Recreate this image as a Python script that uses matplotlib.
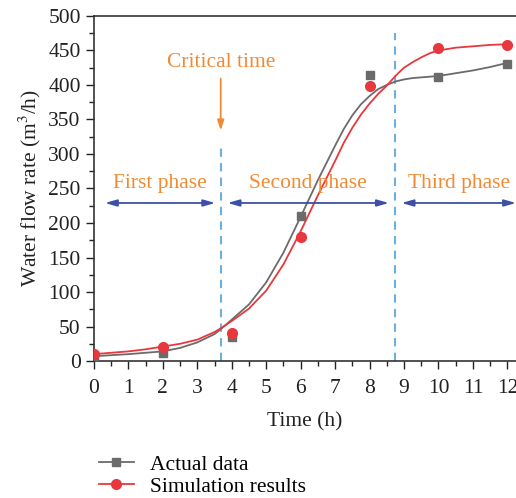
import matplotlib.pyplot as plt
from matplotlib.ticker import MultipleLocator

plt.rcParams['font.family'] = ['Liberation Serif', 'DejaVu Serif']
plt.rcParams['mathtext.fontset'] = 'stix'

# measured points
hours = [0, 2, 4, 6, 8, 10, 12]
actual = [8, 12, 35, 210, 414, 412, 431]
simulated = [10, 20, 40, 180, 398, 454, 458]

# fitted curves
curve_t = [0, 0.5, 1, 1.5, 2, 2.5, 3, 3.5, 3.7, 4, 4.5, 5, 5.5, 6, 6.5,
           7, 7.25, 7.5, 7.75, 8, 8.25, 8.5, 8.75, 9, 9.25, 9.5, 9.75,
           10, 10.5, 11, 11.5, 12]
curve_actual = [7, 8.5, 10, 12, 14, 19, 27, 39, 47, 60, 82, 114, 157, 209, 262,
                312, 336, 356, 372, 384, 394, 400, 405, 408, 410, 411, 412,
                413, 417, 421, 426, 432]
curve_sim = [10, 12, 14, 17, 21, 25, 31, 42, 48, 58, 76, 102, 140, 188, 240,
             290, 316, 338, 357, 373, 387, 399, 413, 425, 433, 440, 446,
             450, 454, 456, 458, 459]

critical_t = 3.68
phase_end = 8.74
phases = ['First phase', 'Second phase', 'Third phase']
phase_x = [1.92, 6.2, 10.6]
phase_span = [(0.32, 3.52), (3.88, 8.56), (8.93, 12.25)]

grey = '#6b6b6b'
red = '#e8383d'
orange = '#f28a33'
blue = '#3c50a8'
light_blue = '#6cb0e0'

fig = plt.figure(figsize=(5.16, 4.98), dpi=100)
ax = fig.add_axes([0.182, 0.275, 0.818, 0.693])

ax.plot(curve_t, curve_actual, color=grey, lw=1.3, zorder=3)
ax.plot(curve_t, curve_sim, color=red, lw=1.3, zorder=3)
ax.plot(hours, actual, 's', color=grey, ms=5.5, zorder=4)
ax.plot(hours, simulated, 'o', color=red, ms=7, zorder=5)

# phase boundaries
ax.plot([critical_t, critical_t], [0, 313], ls=(0, (4, 3)), color=light_blue, lw=1.5)
ax.plot([phase_end, phase_end], [0, 475], ls=(0, (4, 3)), color=light_blue, lw=1.5)

ax.annotate('', xy=(critical_t, 330), xytext=(critical_t, 413),
            arrowprops=dict(arrowstyle='-|>,head_length=0.6,head_width=0.2',
                            color=orange, lw=1.3))
ax.text(critical_t, 432, 'Critical time', color=orange, fontsize=15.5,
        ha='center', va='center')

for name, xc, (x0, x1) in zip(phases, phase_x, phase_span):
    ax.text(xc, 257, name, color=orange, fontsize=15.5, ha='center', va='center')
    ax.annotate('', xy=(x1, 229), xytext=(x0, 229),
                arrowprops=dict(arrowstyle='<|-|>,head_length=0.7,head_width=0.2',
                                color=blue, lw=1.3, shrinkA=0, shrinkB=0))

ax.set_xlim(0, 12.25)
ax.set_ylim(0, 500)
ax.xaxis.set_major_locator(MultipleLocator(1))
ax.xaxis.set_minor_locator(MultipleLocator(0.5))
ax.yaxis.set_major_locator(MultipleLocator(50))
ax.yaxis.set_minor_locator(MultipleLocator(25))
ax.tick_params(which='major', direction='out', length=6, width=1, labelsize=15.5,
               colors='#222222')
ax.tick_params(axis='x', which='major', pad=7)
ax.tick_params(which='minor', direction='out', length=3.5, width=1, colors='#222222')
ax.spines['right'].set_visible(False)
for s in ['left', 'bottom', 'top']:
    ax.spines[s].set_color('#333333')
    ax.spines[s].set_linewidth(1.2)

ax.set_xlabel('Time (h)', fontsize=15.5, color='#222222', labelpad=10)
ax.set_ylabel('Water flow rate (m$^3$/h)', fontsize=15.5, color='#222222', labelpad=4)

h1, = ax.plot([], [], '-s', color=grey, ms=5.5, lw=1.3)
h2, = ax.plot([], [], '-o', color=red, ms=7, lw=1.3)
fig.legend([h1, h2], ['Actual data', 'Simulation results'], loc='upper left',
           bbox_to_anchor=(0.192, 0.087), frameon=False, fontsize=15.5,
           handlelength=1.6, handletextpad=0.75, labelspacing=0.1,
           borderaxespad=0, borderpad=0)

fig.savefig('out.png', dpi=100)
